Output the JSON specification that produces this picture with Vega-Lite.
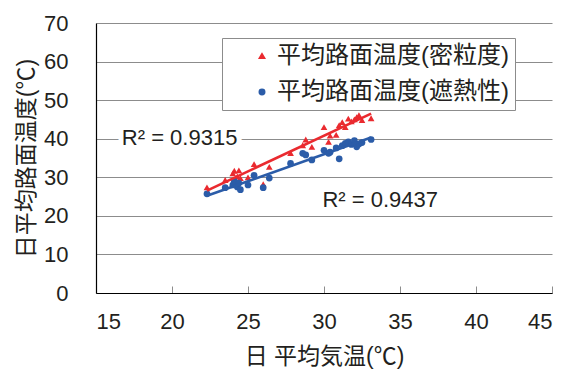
{
  "$schema": "https://vega.github.io/schema/vega-lite/v6.json",
  "width": 456,
  "height": 270,
  "autosize": "none",
  "padding": {"left": 96, "top": 23, "right": 12, "bottom": 79},
  "background": "white",
  "config": {
    "view": {"stroke": null},
    "font": "Liberation Sans, Noto Sans CJK JP",
    "axis": {
      "labelFontSize": 22,
      "labelColor": "#231f20",
      "titleFontSize": 23,
      "titleFontWeight": "normal",
      "titleColor": "#231f20",
      "domainColor": "#000000",
      "domainWidth": 1.2,
      "gridColor": "#8c8c8c",
      "gridWidth": 1
    }
  },
  "datasets": {
    "days": [
      {"series": "平均路面温度(密粒度)", "air": 22.3, "road": 27.4},
      {"series": "平均路面温度(密粒度)", "air": 23.5, "road": 29.3},
      {"series": "平均路面温度(密粒度)", "air": 24.0, "road": 31.0},
      {"series": "平均路面温度(密粒度)", "air": 24.1, "road": 31.7},
      {"series": "平均路面温度(密粒度)", "air": 24.3, "road": 30.2},
      {"series": "平均路面温度(密粒度)", "air": 24.4, "road": 31.8},
      {"series": "平均路面温度(密粒度)", "air": 24.5, "road": 29.8},
      {"series": "平均路面温度(密粒度)", "air": 25.0, "road": 30.0},
      {"series": "平均路面温度(密粒度)", "air": 25.4, "road": 33.4},
      {"series": "平均路面温度(密粒度)", "air": 26.0, "road": 28.2},
      {"series": "平均路面温度(密粒度)", "air": 26.4, "road": 32.7},
      {"series": "平均路面温度(密粒度)", "air": 27.8, "road": 36.3},
      {"series": "平均路面温度(密粒度)", "air": 28.6, "road": 38.3},
      {"series": "平均路面温度(密粒度)", "air": 28.8, "road": 39.8},
      {"series": "平均路面温度(密粒度)", "air": 29.2, "road": 37.9},
      {"series": "平均路面温度(密粒度)", "air": 30.0, "road": 43.0},
      {"series": "平均路面温度(密粒度)", "air": 30.3, "road": 39.2},
      {"series": "平均路面温度(密粒度)", "air": 30.4, "road": 40.8},
      {"series": "平均路面温度(密粒度)", "air": 30.8, "road": 41.0},
      {"series": "平均路面温度(密粒度)", "air": 31.0, "road": 43.5},
      {"series": "平均路面温度(密粒度)", "air": 31.2, "road": 44.3},
      {"series": "平均路面温度(密粒度)", "air": 31.4, "road": 43.0},
      {"series": "平均路面温度(密粒度)", "air": 31.6, "road": 45.2},
      {"series": "平均路面温度(密粒度)", "air": 31.8, "road": 44.5},
      {"series": "平均路面温度(密粒度)", "air": 32.0, "road": 45.0},
      {"series": "平均路面温度(密粒度)", "air": 32.15, "road": 45.6},
      {"series": "平均路面温度(密粒度)", "air": 32.3, "road": 46.1},
      {"series": "平均路面温度(密粒度)", "air": 32.5, "road": 44.8},
      {"series": "平均路面温度(密粒度)", "air": 33.1, "road": 45.3},
      {"series": "平均路面温度(遮熱性)", "air": 22.3, "road": 25.7},
      {"series": "平均路面温度(遮熱性)", "air": 23.5, "road": 27.3},
      {"series": "平均路面温度(遮熱性)", "air": 24.0, "road": 28.0},
      {"series": "平均路面温度(遮熱性)", "air": 24.1, "road": 29.0},
      {"series": "平均路面温度(遮熱性)", "air": 24.3, "road": 27.5},
      {"series": "平均路面温度(遮熱性)", "air": 24.4, "road": 28.5},
      {"series": "平均路面温度(遮熱性)", "air": 24.5, "road": 26.8},
      {"series": "平均路面温度(遮熱性)", "air": 25.0, "road": 28.0},
      {"series": "平均路面温度(遮熱性)", "air": 25.4, "road": 30.5},
      {"series": "平均路面温度(遮熱性)", "air": 26.0, "road": 27.3},
      {"series": "平均路面温度(遮熱性)", "air": 26.4, "road": 29.8},
      {"series": "平均路面温度(遮熱性)", "air": 27.8, "road": 33.6},
      {"series": "平均路面温度(遮熱性)", "air": 28.6, "road": 36.2},
      {"series": "平均路面温度(遮熱性)", "air": 28.8, "road": 35.8},
      {"series": "平均路面温度(遮熱性)", "air": 29.2, "road": 34.5},
      {"series": "平均路面温度(遮熱性)", "air": 30.0, "road": 37.0},
      {"series": "平均路面温度(遮熱性)", "air": 30.3, "road": 36.2},
      {"series": "平均路面温度(遮熱性)", "air": 30.4, "road": 36.5},
      {"series": "平均路面温度(遮熱性)", "air": 30.8, "road": 37.6},
      {"series": "平均路面温度(遮熱性)", "air": 31.0, "road": 34.8},
      {"series": "平均路面温度(遮熱性)", "air": 31.2, "road": 38.2},
      {"series": "平均路面温度(遮熱性)", "air": 31.4, "road": 38.8},
      {"series": "平均路面温度(遮熱性)", "air": 31.6, "road": 39.2},
      {"series": "平均路面温度(遮熱性)", "air": 31.8, "road": 38.5},
      {"series": "平均路面温度(遮熱性)", "air": 32.0, "road": 39.5},
      {"series": "平均路面温度(遮熱性)", "air": 32.15, "road": 37.9},
      {"series": "平均路面温度(遮熱性)", "air": 32.3, "road": 38.6},
      {"series": "平均路面温度(遮熱性)", "air": 32.5, "road": 39.0},
      {"series": "平均路面温度(遮熱性)", "air": 33.1, "road": 39.8}
    ],
    "fits": [
      {"label": "R² = 0.9315", "air": 20.5, "road": 40.3},
      {"label": "R² = 0.9437", "air": 33.7, "road": 24.1}
    ]
  },
  "encoding": {
    "x": {
      "field": "air",
      "type": "quantitative",
      "scale": {"domain": [15, 45], "nice": false, "zero": false},
      "axis": {
        "title": "日 平均気温(℃)",
        "values": [15, 20, 25, 30, 35, 40, 45],
        "grid": false,
        "tickColor": "#8c8c8c",
        "tickSize": -7,
        "labelPadding": 25,
        "titlePadding": 13
      }
    },
    "y": {
      "field": "road",
      "type": "quantitative",
      "scale": {"domain": [0, 70], "nice": false},
      "axis": {
        "title": "日平均路面温度(℃)",
        "values": [0, 10, 20, 30, 40, 50, 60, 70],
        "ticks": false,
        "labelPadding": 28,
        "titlePadding": 5
      }
    }
  },
  "layer": [
    {
      "data": {"name": "days"},
      "mark": {"type": "point", "filled": true, "opacity": 1, "size": 45},
      "encoding": {
        "color": {
          "field": "series",
          "type": "nominal",
          "scale": {
            "domain": ["平均路面温度(密粒度)", "平均路面温度(遮熱性)"],
            "range": ["#ea2a2f", "#2b5ca8"]
          },
          "legend": {
            "title": null,
            "orient": "none",
            "legendX": 126,
            "legendY": 15,
            "direction": "vertical",
            "fillColor": "white",
            "strokeColor": "#8c8c8c",
            "padding": 6,
            "labelFontSize": 24,
            "labelColor": "#231f20",
            "labelLimit": 400,
            "labelExpr": "datum.label + '   '",
            "symbolSize": 30,
            "symbolOffset": 22,
            "labelOffset": 3,
            "rowPadding": 12
          }
        },
        "shape": {
          "field": "series",
          "type": "nominal",
          "scale": {
            "domain": ["平均路面温度(密粒度)", "平均路面温度(遮熱性)"],
            "range": ["triangle-up", "circle"]
          },
          "legend": null
        }
      }
    },
    {
      "data": {"name": "days"},
      "transform": [
        {"regression": "road", "on": "air", "groupby": ["series"], "method": "linear"}
      ],
      "mark": {"type": "line", "strokeWidth": 2.6},
      "encoding": {
        "color": {"field": "series", "type": "nominal", "legend": null}
      }
    },
    {
      "data": {"name": "fits"},
      "mark": {"type": "text", "fontSize": 22, "stroke": "white", "strokeWidth": 10, "fill": "white"},
      "encoding": {"text": {"field": "label"}}
    },
    {
      "data": {"name": "fits"},
      "mark": {"type": "text", "fontSize": 22, "fill": "#231f20"},
      "encoding": {"text": {"field": "label"}}
    }
  ]
}
